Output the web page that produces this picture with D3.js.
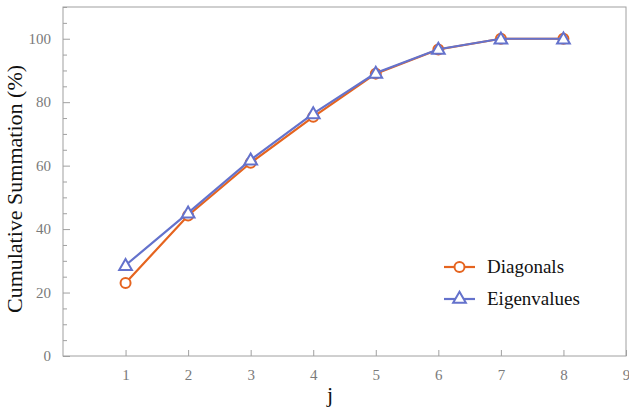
<!DOCTYPE html>
<html>
<head>
<meta charset="utf-8">
<script src="https://cdn.jsdelivr.net/npm/d3@7"></script>
<style>
  body { margin: 0; background: #fff; }
</style>
</head>
<body>
<svg id="chart" width="629" height="407"></svg>
<script>
const jValues = [1, 2, 3, 4, 5, 6, 7, 8];
const diagonals = [23, 44.3, 60.9, 75.4, 89, 96.6, 100, 100];
const eigenvalues = [28.6, 45.1, 61.8, 76.4, 89.2, 96.7, 100, 100];
const xTicks = [1, 2, 3, 4, 5, 6, 7, 8, 9];
const yTicks = [0, 20, 40, 60, 80, 100];
const seriesNames = ['Diagonals', 'Eigenvalues'];

const orange = '#e5641f';
const blue = '#6472cc';
const frameColor = '#a0a0a0';
const tickText = '#7a7a7a';
const serif = 'Liberation Serif';

const svg = d3.select('#chart');
const margin = {left: 63, top: 7, right: 3, bottom: 51};
const width = 629 - margin.left - margin.right;
const height = 407 - margin.top - margin.bottom;

const x = d3.scaleLinear().domain([0, 9]).range([0, width]);
const y = d3.scaleLinear().domain([0, 110]).range([height, 0]);

const g = svg.append('g').attr('transform', `translate(${margin.left},${margin.top})`);

// frame
g.append('rect')
  .attr('width', width).attr('height', height)
  .attr('fill', 'none').attr('stroke', frameColor).attr('stroke-width', 1);

// x ticks (inward)
const xAxis = g.append('g').attr('transform', `translate(0,${height})`)
  .call(d3.axisBottom(x).tickValues(xTicks).tickSize(-6).tickPadding(13).tickFormat(d3.format('d')));
xAxis.select('.domain').remove();

// y ticks, major + minor (inward)
const yMinor = d3.range(0, 111, 5).filter(v => v % 20 !== 0);
g.append('g').call(d3.axisLeft(y).tickValues(yMinor).tickSize(-4).tickFormat(''))
  .select('.domain').remove();
const yAxis = g.append('g')
  .call(d3.axisLeft(y).tickValues(yTicks).tickSize(-7).tickPadding(12).tickFormat(d3.format('d')));
yAxis.select('.domain').remove();

g.selectAll('.tick line').attr('stroke', frameColor);
g.selectAll('.tick text')
  .attr('fill', tickText)
  .attr('font-family', serif)
  .attr('font-size', 15);

// axis titles
svg.append('text')
  .attr('transform', `translate(22,${margin.top + 182}) rotate(-90)`)
  .attr('text-anchor', 'middle')
  .attr('font-family', serif)
  .attr('font-size', 22)
  .attr('fill', '#111')
  .text('Cumulative Summation (%)');
svg.append('text')
  .attr('x', 330)
  .attr('y', 402)
  .attr('text-anchor', 'middle')
  .attr('font-family', serif)
  .attr('font-size', 22)
  .attr('fill', '#111')
  .text('j');

const line = d3.line().x(d => x(d[0])).y(d => y(d[1]));
const tri = d3.symbol().type(d3.symbolTriangle).size(70);

function drawSeries(values, color, marker) {
  const pts = jValues.map((j, i) => [j, values[i]]);
  g.append('path').datum(pts)
    .attr('d', line).attr('fill', 'none')
    .attr('stroke', color).attr('stroke-width', 2.2);
  if (marker === 'circle') {
    g.selectAll(null).data(pts).enter().append('circle')
      .attr('cx', d => x(d[0])).attr('cy', d => y(d[1])).attr('r', 5)
      .attr('fill', '#fff').attr('stroke', color).attr('stroke-width', 2);
  } else {
    g.selectAll(null).data(pts).enter().append('path')
      .attr('d', tri)
      .attr('transform', d => `translate(${x(d[0])},${y(d[1]) + 1})`)
      .attr('fill', '#fff').attr('stroke', color).attr('stroke-width', 2);
  }
}
drawSeries(diagonals, orange, 'circle');
drawSeries(eigenvalues, blue, 'triangle');

// legend
const legend = svg.append('g').attr('transform', 'translate(444,267)');
[[orange, 'circle'], [blue, 'triangle']].forEach(([color, marker], i) => {
  const row = legend.append('g').attr('transform', `translate(0,${i * 32})`);
  row.append('line').attr('x1', 0).attr('x2', 31)
    .attr('stroke', color).attr('stroke-width', 2.2);
  if (marker === 'circle') {
    row.append('circle').attr('cx', 15.5).attr('r', 5)
      .attr('fill', '#fff').attr('stroke', color).attr('stroke-width', 2);
  } else {
    row.append('path').attr('d', tri).attr('transform', 'translate(15.5,0)')
      .attr('fill', '#fff').attr('stroke', color).attr('stroke-width', 2);
  }
  row.append('text').attr('x', 43).attr('y', 6)
    .attr('font-family', serif)
    .attr('font-size', 19).attr('fill', '#111')
    .text(seriesNames[i]);
});
</script>
</body>
</html>
